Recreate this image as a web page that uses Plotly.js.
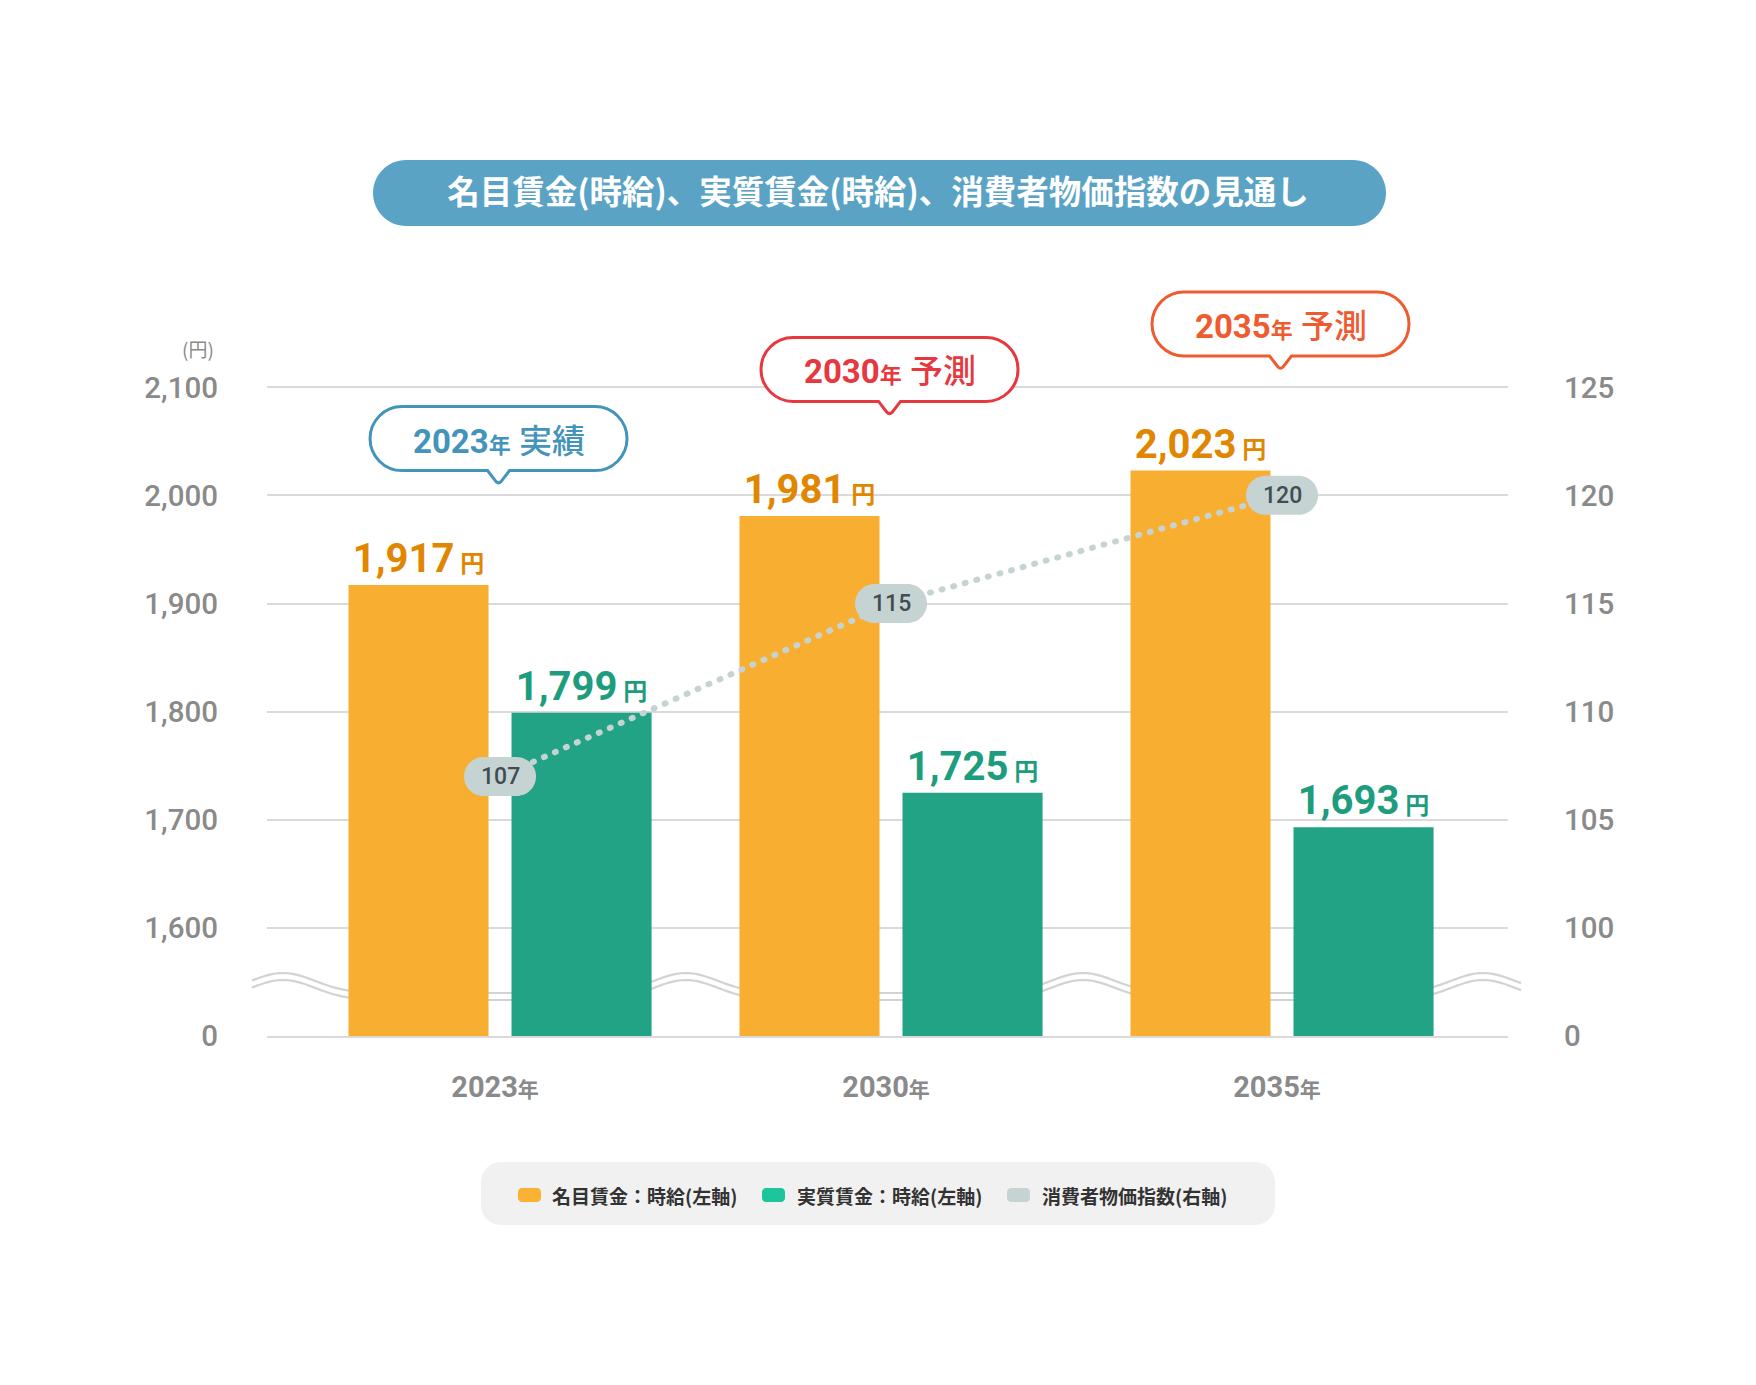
<!DOCTYPE html>
<html>
<head>
<meta charset="utf-8">
<script src="https://cdn.plot.ly/plotly-3.0.1.min.js"></script>
<style>
html, body { margin: 0; padding: 0; background: #ffffff; }
#chart { width: 1756px; height: 1385px; }
.scatterlayer .js-line { stroke-linecap: round; }
</style>
</head>
<body>
<div id="chart"></div>
<script>
// ---------------- data ----------------
const years = ['2023', '2030', '2035'];
const yearSuffix = '年';
const nominalWage = [1917, 1981, 2023];   // 名目賃金 (円)
const realWage = [1799, 1725, 1693];      // 実質賃金 (円)
const cpi = [107, 115, 120];              // 消費者物価指数
const leftTickVals = [1500, 1600, 1700, 1800, 1900, 2000, 2100];
const leftTickText = ['0', '1,600', '1,700', '1,800', '1,900', '2,000', '2,100'];
const rightTickVals = [95, 100, 105, 110, 115, 120, 125];
const rightTickText = ['0', '100', '105', '110', '115', '120', '125'];
const seriesNames = ['名目賃金：時給(左軸)', '実質賃金：時給(左軸)', '消費者物価指数(右軸)'];
const calloutKinds = ['実績', '予測', '予測'];
const titleText = '名目賃金(時給)、実質賃金(時給)、消費者物価指数の見通し';
const yUnit = '(円)';

// ---------------- styling / layout constants ----------------
const W = 1756, H = 1385;
const M = { l: 267, r: 248, t: 384, b: 349 };
const PW = W - M.l - M.r, PH = H - M.t - M.b;
const Y_RANGE = [1500, 2103];
const Y2_RANGE = [95, 125.15];
const X_RANGE = [-0.596, 2.578];

const COL_NOMINAL = '#f8af31';
const COL_REAL = '#22a385';
const COL_NOMINAL_TXT = '#e08600';
const COL_REAL_TXT = '#1e9d7e';
const COL_CPI = '#c6d3d3';
const COL_TICK = '#8a8a8a';
const COL_GRID = '#dadada';
const calloutColors = ['#4394ba', '#e6383e', '#ef5b31'];
const legendSwatch = ['#f9b233', '#1cc59c', '#c6d3d3'];

const FONT = "Roboto, 'Noto Sans CJK JP', sans-serif";
const FONT_JP = "'Noto Sans CJK JP', Roboto, sans-serif";

// page pixel -> paper fraction
const px = x => (x - M.l) / PW;
const py = y => (H - M.b - y) / PH;
const pagePt = (x, y) => px(x).toFixed(5) + ',' + py(y).toFixed(5);
const yFrac = v => (v - Y_RANGE[0]) / (Y_RANGE[1] - Y_RANGE[0]);

// rounded rectangle path; P maps (x, y[down]) to a coordinate string
function rrect(x0, y0, x1, y1, r, P) {
  const k = 0.5523 * r;
  return 'M' + P(x0 + r, y0) + ' L' + P(x1 - r, y0) +
    ' C' + P(x1 - r + k, y0) + ' ' + P(x1, y0 + r - k) + ' ' + P(x1, y0 + r) +
    ' L' + P(x1, y1 - r) +
    ' C' + P(x1, y1 - r + k) + ' ' + P(x1 - r + k, y1) + ' ' + P(x1 - r, y1) +
    ' L' + P(x0 + r, y1) +
    ' C' + P(x0 + r - k, y1) + ' ' + P(x0, y1 - r + k) + ' ' + P(x0, y1 - r) +
    ' L' + P(x0, y0 + r) +
    ' C' + P(x0, y0 + r - k) + ' ' + P(x0 + r - k, y0) + ' ' + P(x0 + r, y0) + ' Z';
}

// speech bubble: origin at tail tip, y downward
function bubble(P) {
  const x0 = -128.5, x1 = 128.5, y0 = -77.5, y1 = -13.5, r = 32, k = 0.5523 * r, t = 11;
  return 'M' + P(x0 + r, y0) + ' L' + P(x1 - r, y0) +
    ' C' + P(x1 - r + k, y0) + ' ' + P(x1, y0 + r - k) + ' ' + P(x1, y0 + r) +
    ' C' + P(x1, y1 - r + k) + ' ' + P(x1 - r + k, y1) + ' ' + P(x1 - r, y1) +
    ' L' + P(t, y1) + ' L' + P(2.5, -2.5) + ' Q' + P(0, 0) + ' ' + P(-2.5, -2.5) +
    ' L' + P(-t, y1) + ' L' + P(x0 + r, y1) +
    ' C' + P(x0 + r - k, y1) + ' ' + P(x0, y1 - r + k) + ' ' + P(x0, y1 - r) +
    ' C' + P(x0, y0 + r - k) + ' ' + P(x0 + r - k, y0) + ' ' + P(x0 + r, y0) + ' Z';
}

// ---------------- traces ----------------
const xIdx = years.map((_, i) => i);

const traces = [
  {
    type: 'bar', name: seriesNames[0], x: xIdx, y: nominalWage,
    marker: { color: COL_NOMINAL },
    texttemplate: '%{y:,}<span style="font-size:24px"> 円</span>',
    textposition: 'outside', cliponaxis: false, constraintext: 'none',
    outsidetextfont: { family: FONT, size: 40, color: COL_NOMINAL_TXT, weight: 700 },
    showlegend: false, hoverinfo: 'skip'
  },
  {
    type: 'bar', name: seriesNames[1], x: xIdx, y: realWage,
    marker: { color: COL_REAL },
    texttemplate: '%{y:,}<span style="font-size:24px"> 円</span>',
    textposition: 'outside', cliponaxis: false, constraintext: 'none',
    outsidetextfont: { family: FONT, size: 40, color: COL_REAL_TXT, weight: 700 },
    showlegend: false, hoverinfo: 'skip'
  },
  {
    type: 'scatter', mode: 'lines', name: seriesNames[2], x: xIdx, y: cpi, yaxis: 'y2',
    line: { color: COL_CPI, width: 6, dash: '1px,11px' },
    showlegend: false, hoverinfo: 'skip', cliponaxis: false
  }
];

// ---------------- shapes ----------------
const shapes = [];

// title banner
shapes.push({
  type: 'path', xref: 'paper', yref: 'paper', layer: 'below',
  path: rrect(373, 160, 1386, 226, 33, pagePt),
  fillcolor: '#5ba3c5', line: { width: 0 }
});

// axis break waves (decoration): smooth bumps in the gaps between groups
const wavePeaks = [283, 686, 1083, 1483];
[0, 7].forEach(off => {
  let d = '';
  for (let x = 252; x <= 1523; x += 3) {
    let bump = 0;
    wavePeaks.forEach(p => { bump += Math.exp(-Math.pow((x - p) / 32, 2) / 2); });
    const y = 993 + off - 20 * bump;
    d += (d ? ' L' : 'M') + pagePt(x, y);
  }
  shapes.push({
    type: 'path', xref: 'paper', yref: 'paper', layer: 'below', path: d,
    line: { color: '#d3d3d3', width: 2.2 }, fillcolor: 'rgba(0,0,0,0)'
  });
});

// callout bubbles above the nominal bars
years.forEach((yr, i) => {
  shapes.push({
    type: 'path', xref: 'x', xsizemode: 'pixel', xanchor: i,
    yref: 'paper', ysizemode: 'pixel', yanchor: yFrac(nominalWage[i]),
    path: bubble((x, y) => (x - 1.5).toFixed(2) + ',' + (101 - y).toFixed(2)),
    fillcolor: '#ffffff', line: { color: calloutColors[i], width: 3 }, layer: 'above'
  });
});

// CPI value pills
cpi.forEach((v, i) => {
  shapes.push({
    type: 'path', xref: 'x', xsizemode: 'pixel', xanchor: i,
    yref: 'y2', ysizemode: 'pixel', yanchor: v,
    path: rrect(-36, -19.5, 36, 19.5, 19.5, (x, y) => x.toFixed(2) + ',' + (-y).toFixed(2)),
    fillcolor: COL_CPI, line: { width: 0 }, layer: 'above'
  });
});

// legend box + swatches
shapes.push({
  type: 'path', xref: 'paper', yref: 'paper', layer: 'below',
  path: rrect(481, 1162, 1275, 1225, 20, pagePt), fillcolor: '#f1f1f1', line: { width: 0 }
});
const legendSwatchX = [518, 762, 1007];
const legendTextX = [550, 795, 1040];
legendSwatchX.forEach((x, i) => {
  shapes.push({
    type: 'path', xref: 'paper', yref: 'paper', layer: 'below',
    path: rrect(x, 1188, x + 23, 1202, 4, pagePt), fillcolor: legendSwatch[i], line: { width: 0 }
  });
});

// ---------------- annotations ----------------
const annotations = [];

annotations.push({
  xref: 'paper', yref: 'paper', x: 0, y: 1, xanchor: 'right', yanchor: 'middle',
  xshift: -51, yshift: 36, text: yUnit, showarrow: false,
  font: { family: FONT_JP, size: 19, color: COL_TICK }
});

years.forEach((yr, i) => {
  annotations.push({
    xref: 'x', yref: 'y', x: i, y: nominalWage[i], yshift: 144, xshift: -1.5,
    xanchor: 'center', yanchor: 'middle', showarrow: false,
    text: yr + '<span style="font-size:22px">' + yearSuffix + '</span> ' +
      '<span style="font-weight:500">' + calloutKinds[i] + '</span>',
    font: { family: FONT, size: 33, color: calloutColors[i], weight: 700 }
  });
});

cpi.forEach((v, i) => {
  annotations.push({
    xref: 'x', yref: 'y2', x: i, y: v, xanchor: 'center', yanchor: 'middle',
    showarrow: false, text: String(v),
    font: { family: FONT, size: 23, color: '#424d52', weight: 500 }
  });
});

seriesNames.forEach((name, i) => {
  annotations.push({
    xref: 'paper', yref: 'paper', x: px(legendTextX[i]), y: py(1195),
    xanchor: 'left', yanchor: 'middle', showarrow: false, text: name,
    font: { family: FONT_JP, size: 19, color: '#333333', weight: 700 }
  });
});

// ---------------- layout ----------------
const tickFont = { family: FONT, size: 29.5, color: COL_TICK, weight: 500 };

const layout = {
  width: W, height: H,
  margin: M,
  paper_bgcolor: '#ffffff', plot_bgcolor: 'rgba(0,0,0,0)',
  showlegend: false,
  barmode: 'group', bargap: 0.166, bargroupgap: 0.141,
  title: {
    text: titleText, xref: 'container', x: 0.5, xanchor: 'center',
    yref: 'container', y: 1 - 193 / H, yanchor: 'middle',
    font: { family: FONT_JP, size: 32.5, color: '#ffffff', weight: 700 }
  },
  xaxis: {
    range: X_RANGE, tickvals: xIdx,
    ticktext: years.map(y => y + '<span style="font-size:21px">' + yearSuffix + '</span>'),
    showgrid: false, zeroline: false, ticks: '',
    showline: true, linecolor: COL_GRID, linewidth: 2,
    ticklabelstandoff: 24, ticklabelshift: -5,
    tickfont: { family: FONT, size: 29, color: COL_TICK, weight: 700 },
    fixedrange: true
  },
  yaxis: {
    range: Y_RANGE, tickvals: leftTickVals, ticktext: leftTickText,
    showgrid: true, gridcolor: COL_GRID, gridwidth: 2, zeroline: false,
    ticks: '', ticklabelstandoff: 48, tickfont: tickFont, fixedrange: true
  },
  yaxis2: {
    range: Y2_RANGE, tickvals: rightTickVals, ticktext: rightTickText,
    overlaying: 'y', side: 'right', showgrid: false, zeroline: false,
    ticks: '', ticklabelstandoff: 55, tickfont: tickFont, fixedrange: true
  },
  shapes: shapes,
  annotations: annotations
};

Plotly.newPlot('chart', traces, layout, { displayModeBar: false, staticPlot: true });
</script>
</body>
</html>
